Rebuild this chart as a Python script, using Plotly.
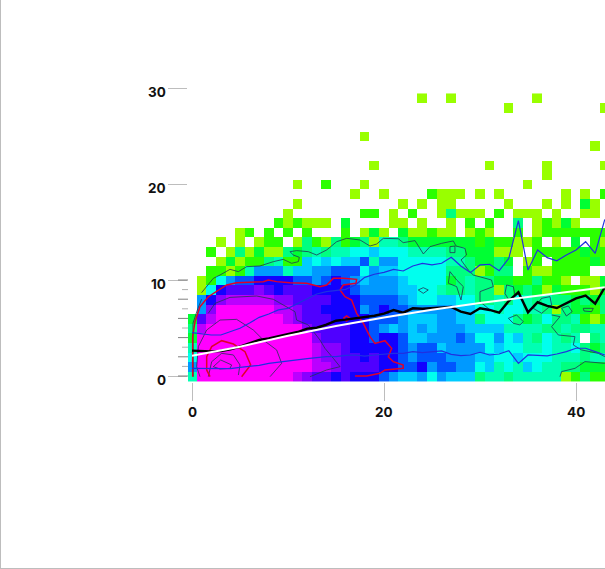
import plotly.graph_objects as go

# Level of each 2-D histogram cell, row 0 (y = 0) first, column 0 (x = 0) at the left.
ROWS = [
 "4ddddddddd dcbaa9a999 8766757666 3443444440 1311",
 "7ddddddddd dddccbaaaa 9988978877 5645465443 3222",
 "5ddddddddd dddcbbaa9a 9987888777 6655655544 4344",
 "4ddddddddd dddcbba999 9987886777 7565544544 5323",
 "2ddddddddd dddbaaa998 9986677787 5575643543 4.34",
 "3cdddddddd ddbaaaa998 7676767776 6664444334 3344",
 "2acddddddd cbaaa99998 8876667766 3555323533 4101",
 ".7bddddddc cbaa999978 9887777766 5545544303 2213",
 ".79bcccccb baaaa99988 8876556655 3343543433 2323",
 ".059aaaba9 aaa9999877 7766554334 3303232021 1102",
 ".015788999 9887898767 7765555234 3322113110 .002",
 "..11014777 4667788857 6655555333 0133.10011 11..",
 "...0201134 1165656684 7755555443 2232.01.11 1121",
 "..1.030200 3234344556 5554444332 22000.1111 1211",
 "...0.0.011 .031031230 4432222222 1211001.0. 2.10",
 ".....01.1. 1.1...1.02 0.200100.0 10..1.0111 1111",
 ".........1 01000.2... .00.0..0.1 .1..3.0102 0...",
 ".......... 0.......11 .0.1..0300 0.1.000.0. .00.",
 ".......... .0........ ..0.0.00.. ...0...0.0 .20.",
 ".......... .......0.. 0....1000. 0.0......0 .0.1",
 ".......... .0..1...0. .......... .....0.... ....",
 ".......... .......... .......... .......0.. ....",
 ".......... .........0 .......... .0.....0.. ...0",
 ".......... .......... .......... .......... ....",
 ".......... .......... .......... .......... ..0.",
 ".......... ........0. .......... .......... ....",
 ".......... .......... .......... .......... ....",
 ".......... .......... .......... .......... ....",
 ".......... .......... .......... ...0...... ...0",
 ".......... .......... ....0..0.. ......0... ....",
]
LEVEL_COLOURS = ["#99ff00", "#2bff00", "#00ff33", "#00ff80", "#00ffb3", "#00ffee", "#00ccff",
                 "#0099ff", "#0055ff", "#1200ff", "#4f00ff", "#8800ff", "#bb00ff", "#ff00ff"]

MEDIAN_X = list(range(44))
MEDIAN_Y = [2.64, 2.6, 2.57, 2.6, 2.78, 3.06, 3.4, 3.75, 3.92, 4.13, 4.38, 4.58, 4.93, 5.03, 5.35,
            5.76, 5.87, 6.0, 6.18, 6.28, 6.49, 6.87, 6.6, 7.05, 7.0, 7.05, 7.08, 7.2, 6.7, 6.46,
            7.05, 6.88, 6.6, 7.82, 8.72, 6.63, 7.68, 7.3, 7.08, 7.57, 8.09, 8.37, 7.54, 9.24]
UPPER_Y = [4.51, 4.38, 4.27, 4.27, 4.62, 4.97, 5.52, 6.11, 6.46, 6.88, 7.05, 7.57, 8.09, 8.54, 8.78,
           8.89, 9.03, 9.48, 10.28, 10.6, 10.8, 11.1, 10.94, 11.46, 11.74, 11.57, 11.74, 12.36, 11.46,
           10.77, 11.57, 11.64, 10.97, 12.26, 16.18, 11.04, 13.13, 12.33, 12.0, 12.6, 13.13, 13.99,
           12.78, 16.32]
LOWER_Y = [0.8, 0.8, 0.76, 0.73, 0.76, 0.9, 0.97, 1.11, 1.32, 1.46, 1.56, 1.74, 1.81, 1.91, 2.01, 2.01,
           2.15, 2.19, 2.08, 2.19, 2.29, 2.36, 2.36, 2.54, 2.43, 2.54, 2.61, 2.26, 2.12, 2.19, 2.47,
           2.19, 2.29, 2.64, 1.32, 2.19, 2.12, 2.09, 2.29, 2.54, 2.89, 2.89, 2.54, 2.19]
FIT_X = [0, 2, 5, 10, 15, 20, 25, 30, 35, 40, 43]
FIT_Y = [2.1, 2.45, 3.05, 4.2, 5.2, 6.1, 6.9, 7.6, 8.25, 8.85, 9.25]

RED_CONTOURS = [
    [(0.07, -0.07), (0.07, 4.1), (0.31, 5.66), (0.83, 7.22), (1.7, 8.26), (2.57, 8.78), (3.61, 9.48),
     (4.65, 9.72), (6.04, 9.79), (7.43, 9.83), (7.95, 10.0), (8.82, 9.83), (10.2, 9.72), (11.94, 9.65),
     (13.33, 9.31), (14.03, 9.48), (14.72, 10.17), (15.76, 10.17), (17.15, 10.07), (17.08, 9.65),
     (15.76, 9.48), (15.42, 8.96), (15.94, 8.26), (16.63, 7.92), (17.15, 6.53), (17.85, 5.49),
     (18.54, 4.1), (19.06, 3.4), (20.1, 3.68), (20.8, 2.88), (20.45, 2.01), (20.97, 1.49), (22.0, 1.15),
     (22.0, 0.8), (20.1, 0.63), (19.58, 0.28), (18.2, 0.0), (16.98, 0.0)],
    [(1.88, -0.07), (1.53, 0.63), (1.53, 2.01), (2.05, 3.06), (3.09, 3.68), (4.31, 3.33), (5.52, 2.53),
     (6.11, 1.15), (5.17, -0.07)],
    [(15.76, 6.01), (16.1, 6.25), (16.46, 6.01), (16.1, 5.73), (15.76, 6.01)],
]
DARK_CONTOURS = [
    [(1.0, 8.68), (1.7, 9.48), (2.22, 10.17), (2.92, 10.52), (3.96, 11.11), (4.83, 10.87), (5.69, 11.39),
     (7.08, 11.46), (8.47, 11.91), (9.51, 12.15), (10.38, 11.74), (11.08, 11.91), (11.18, 12.36),
     (10.56, 12.6), (10.21, 12.95), (10.9, 13.06), (12.12, 12.95), (12.99, 12.6), (14.03, 13.13),
     (15.07, 13.99), (16.11, 14.34), (17.5, 14.17), (18.54, 13.54), (19.24, 13.75), (19.93, 14.34),
     (21.49, 14.3), (22.0, 13.89), (23.23, 14.1), (23.75, 13.3), (24.1, 12.71), (24.79, 13.47),
     (26.0, 13.82), (27.22, 14.07), (27.5, 13.54), (28.43, 13.3), (28.6, 12.61), (28.02, 12.09),
     (28.78, 11.04), (29.3, 10.52), (30.52, 10.18), (31.2, 10.0), (31.38, 9.31), (30.0, 8.79),
     (30.0, 7.75), (31.04, 6.88)],
    [(38.33, -0.07), (38.5, 0.46), (39.9, 0.8), (40.93, 1.5), (43.0, 1.32)],
    [(1.7, 6.53), (2.4, 7.57), (3.96, 8.19), (6.74, 8.33), (8.47, 7.99), (9.51, 7.4), (10.73, 6.7),
     (10.9, 5.83), (12.12, 5.31), (13.33, 3.75), (13.85, 2.88), (14.72, 1.84), (15.42, 0.97),
     (14.03, 0.63), (12.29, -0.07)],
    [(0.83, -0.07), (0.49, 0.97), (0.66, 3.06), (1.53, 4.79), (2.92, 5.83), (4.65, 5.9), (6.39, 4.79),
     (7.43, 3.75), (8.82, 2.71), (9.34, 1.32), (8.13, -0.07)],
    [(1.7, -0.07), (2.05, 1.49), (3.09, 2.36), (4.31, 2.19), (5.0, 1.15), (4.83, 0.1)],
    [(2.22, 0.97), (2.99, 1.67), (4.13, 1.15), (3.96, 0.8), (2.92, 0.73), (2.22, 0.97)],
    [(0.14, -0.07), (0.1, 5.5), (0.6, 7.0), (1.0, 8.0)],
    [(23.57, 8.96), (24.09, 9.2), (24.61, 8.96), (24.09, 8.61), (23.57, 8.96)],
    [(26.87, 10.87), (27.57, 10.0), (28.26, 9.31), (28.02, 7.92), (27.57, 9.31), (26.7, 9.66), (26.87, 10.87)],
    [(32.6, 8.6), (32.77, 9.48), (33.47, 9.31), (33.64, 8.44), (33.1, 7.75), (32.6, 8.6)],
    [(32.95, 6.01), (33.81, 6.36), (34.51, 5.66), (34.16, 5.32), (33.47, 5.49), (32.95, 6.01)],
    [(36.42, 8.09), (37.29, 8.27), (37.46, 7.4), (36.42, 6.53), (35.55, 7.05), (36.42, 8.09)],
    [(38.5, 7.05), (39.2, 7.3), (39.6, 6.7), (39.0, 6.25), (38.5, 7.05)],
    [(40.76, 7.05), (41.8, 7.05), (41.63, 6.7), (40.83, 6.77), (40.76, 7.05)],
    [(37.46, 6.36), (38.33, 6.18), (37.46, 5.14), (38.16, 4.27), (39.89, 4.1), (39.72, 3.23),
     (40.59, 2.71), (42.32, 2.36), (43.0, 2.02)],
    [(26.87, 13.47), (27.39, 13.54), (27.39, 12.85), (26.87, 12.85), (26.87, 13.47)],
]

X_TICKS = [0, 20, 40]
Y_TICKS = [0, 10, 20, 30]
Y_EVEN_MINOR = [0, 2, 4, 6, 8, 10]
Y_ODD_MINOR = [1, 3, 5, 7, 9]

def level(ch):
    return None if ch == "." else int(ch, 16)

z = [[level(ch) for ch in row.replace(" ", "")] for row in ROWS]
n = len(LEVEL_COLOURS) - 1
scale = []
for i, col in enumerate(LEVEL_COLOURS):
    scale += [[max(i - 0.5, 0) / n, col], [min(i + 0.5, n) / n, col]]

fig = go.Figure()
fig.add_trace(go.Heatmap(z=z, x0=0, dx=1, y0=-0.07, dy=1, zmin=0, zmax=n, colorscale=scale,
                         showscale=False, hoverongaps=False, zsmooth=False))
for c in DARK_CONTOURS:
    fig.add_trace(go.Scatter(x=[p[0] for p in c], y=[p[1] for p in c], mode="lines",
                             line=dict(color="#223355", width=0.8), showlegend=False))
for c in RED_CONTOURS:
    fig.add_trace(go.Scatter(x=[p[0] for p in c], y=[p[1] for p in c], mode="lines",
                             line=dict(color="#e0002a", width=1.5), showlegend=False))
for ys in (UPPER_Y, LOWER_Y):
    fig.add_trace(go.Scatter(x=MEDIAN_X, y=ys, mode="lines",
                             line=dict(color="#2030e0", width=1.2), showlegend=False))
fig.add_trace(go.Scatter(x=MEDIAN_X, y=MEDIAN_Y, mode="lines",
                         line=dict(color="black", width=2.4), showlegend=False))
fig.add_trace(go.Scatter(x=FIT_X, y=FIT_Y, mode="lines",
                         line=dict(color="white", width=2), showlegend=False))

shapes = []
for v in Y_EVEN_MINOR:
    shapes.append(dict(type="line", xref="paper", xsizemode="pixel", xanchor=0, x0=-10, x1=0,
                       yref="y", y0=v, y1=v, line=dict(color="#808080", width=1)))
for v in Y_ODD_MINOR:
    shapes.append(dict(type="line", xref="paper", xsizemode="pixel", xanchor=0, x0=-6, x1=0,
                       yref="y", y0=v, y1=v, line=dict(color="#b0b0b0", width=1)))
frame = dict(color="#bdbdbd", width=1)
shapes.append(dict(type="line", xref="paper", xsizemode="pixel", xanchor=0, x0=-187.5, x1=-187.5,
                   yref="paper", ysizemode="pixel", yanchor=0, y0=-187, y1=382, line=frame))
shapes.append(dict(type="line", xref="paper", xsizemode="pixel", xanchor=0, x0=-188, x1=417,
                   yref="paper", ysizemode="pixel", yanchor=0, y0=-186.5, y1=-186.5, line=frame))

label_font = dict(family="Inter", size=13.5, color="#111111", weight="bold")
annotations = []
for v in Y_TICKS:
    annotations.append(dict(xref="paper", x=0, yref="y", y=v, text=str(v), showarrow=False,
                            xanchor="right", yanchor="middle", xshift=-20, yshift=-4, font=label_font))
for v in X_TICKS:
    annotations.append(dict(xref="x", x=v, yref="paper", y=0, text=str(v), showarrow=False,
                            xanchor="center", yanchor="middle", yshift=-30, font=label_font))

tick_style = dict(ticks="outside", tickcolor="#bdbdbd", tickwidth=1, showticklabels=False,
                  showgrid=False, zeroline=False, showline=False)
fig.update_layout(
    width=605, height=569, margin=dict(l=188, r=0, t=70, b=187, autoexpand=False),
    paper_bgcolor="white", plot_bgcolor="white", showlegend=False,
    shapes=shapes, annotations=annotations,
    xaxis=dict(range=[-0.4167, 43.02], tickmode="array", tickvals=X_TICKS, ticklen=18, **tick_style),
    yaxis=dict(range=[-0.625, 31.875], tickmode="array", tickvals=Y_TICKS, ticklen=19, **tick_style),
)
fig.write_html("out.html", config={"displayModeBar": False},
               post_script="document.body.style.margin='0';")
